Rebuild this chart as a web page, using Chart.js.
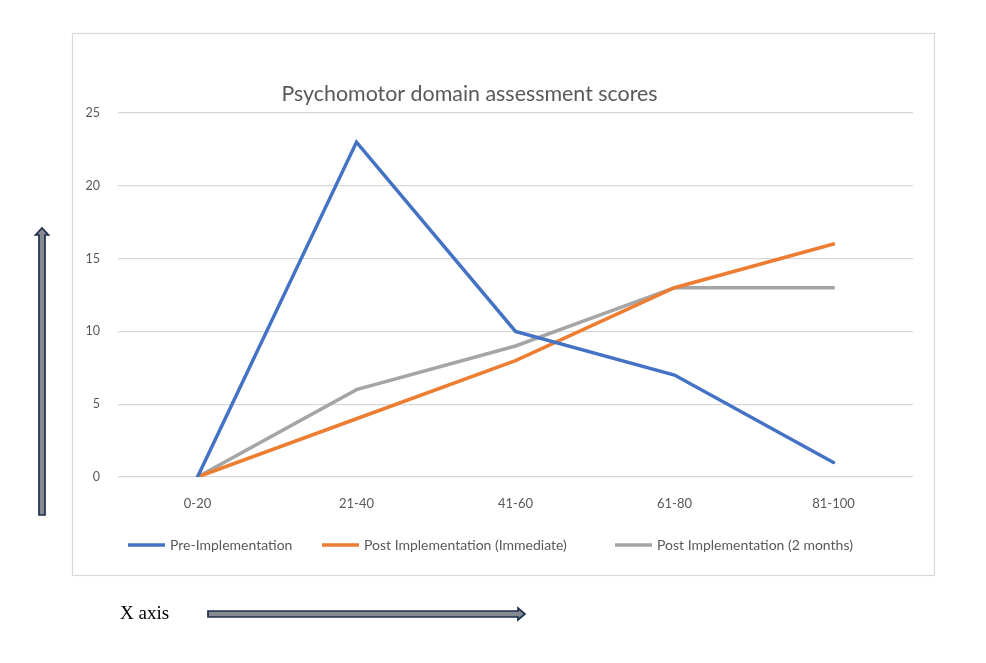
<!DOCTYPE html>
<html>
<head>
<meta charset="utf-8">
<script src="https://cdn.jsdelivr.net/npm/chart.js@4/dist/chart.umd.min.js"></script>
<style>
  html, body { margin: 0; padding: 0; background: #ffffff; }
  #wrap { position: relative; width: 986px; height: 663px; }
</style>
</head>
<body>
<div id="wrap"><canvas id="c" width="986" height="663"></canvas></div>
<script>
const categories = ["0-20", "21-40", "41-60", "61-80", "81-100"];
const preImplementation = [0, 23, 10, 7, 1];
const postImmediate = [0, 4, 8, 13, 16];
const postTwoMonths = [0, 6, 9, 13, 13];
const seriesNames = ["Pre-Implementation", "Post Implementation (Immediate)", "Post Implementation (2 months)"];
const chartTitle = "Psychomotor domain assessment scores";
const xArrowLabel = "X axis";

const FONT = "Lato, 'Noto Sans', sans-serif";
const TEXT_GRAY = "#595959";

function drawArrowH(ctx, x0, x1, y, shaftH, headH, headL) {
  ctx.beginPath();
  ctx.moveTo(x0, y - shaftH / 2);
  ctx.lineTo(x1 - headL, y - shaftH / 2);
  ctx.lineTo(x1 - headL, y - headH / 2);
  ctx.lineTo(x1, y);
  ctx.lineTo(x1 - headL, y + headH / 2);
  ctx.lineTo(x1 - headL, y + shaftH / 2);
  ctx.lineTo(x0, y + shaftH / 2);
  ctx.closePath();
  ctx.fillStyle = "#858a93";
  ctx.fill();
  ctx.strokeStyle = "#1f2f4d";
  ctx.lineWidth = 1.7;
  ctx.stroke();
}
function drawArrowV(ctx, x, y0, y1, shaftW, headW, headL) {
  ctx.beginPath();
  ctx.moveTo(x - shaftW / 2, y0);
  ctx.lineTo(x - shaftW / 2, y1 + headL);
  ctx.lineTo(x - headW / 2, y1 + headL);
  ctx.lineTo(x, y1);
  ctx.lineTo(x + headW / 2, y1 + headL);
  ctx.lineTo(x + shaftW / 2, y1 + headL);
  ctx.lineTo(x + shaftW / 2, y0);
  ctx.closePath();
  ctx.fillStyle = "#858a93";
  ctx.fill();
  ctx.strokeStyle = "#1f2f4d";
  ctx.lineWidth = 1.7;
  ctx.stroke();
}

const decorPlugin = {
  id: "decor",
  beforeDraw(chart) {
    const ctx = chart.ctx;
    ctx.save();
    ctx.fillStyle = "#ffffff";
    ctx.fillRect(0, 0, chart.width, chart.height);
    ctx.strokeStyle = "#d9d9d9";
    ctx.lineWidth = 1.2;
    ctx.strokeRect(72.5, 33.5, 862, 542);
    ctx.restore();
  },
  afterDraw(chart) {
    const ctx = chart.ctx;
    ctx.save();
    ctx.fillStyle = TEXT_GRAY;
    ctx.font = "21.4px " + FONT;
    ctx.textAlign = "center";
    ctx.textBaseline = "middle";
    ctx.fillText(chartTitle, 469.5, 94);
    const legendX = [128, 322, 615];
    const ly = 545;
    ctx.font = "14px " + FONT;
    ctx.textAlign = "left";
    chart.data.datasets.forEach((ds, i) => {
      ctx.strokeStyle = ds.borderColor;
      ctx.lineWidth = 3.5;
      ctx.beginPath();
      ctx.moveTo(legendX[i], ly);
      ctx.lineTo(legendX[i] + 37, ly);
      ctx.stroke();
      ctx.fillStyle = TEXT_GRAY;
      ctx.fillText(ds.label, legendX[i] + 42, ly);
    });
    drawArrowV(ctx, 42, 515, 228, 6, 13, 7);
    drawArrowH(ctx, 208, 525, 614, 6, 12, 7);
    ctx.fillStyle = "#000000";
    ctx.font = "19px 'Liberation Serif', 'DejaVu Serif', serif";
    ctx.textAlign = "left";
    ctx.fillText(xArrowLabel, 120, 614);
    ctx.restore();
  }
};

new Chart(document.getElementById("c"), {
  type: "line",
  data: {
    labels: categories,
    datasets: [
      { label: seriesNames[0], data: preImplementation, borderColor: "#4472C4", backgroundColor: "#4472C4" },
      { label: seriesNames[1], data: postImmediate, borderColor: "#ED7D31", backgroundColor: "#ED7D31" },
      { label: seriesNames[2], data: postTwoMonths, borderColor: "#A5A5A5", backgroundColor: "#A5A5A5" }
    ]
  },
  options: {
    responsive: false,
    animation: false,
    devicePixelRatio: 1,
    layout: { padding: { left: 70, right: 73, top: 113, bottom: 146 } },
    elements: {
      line: { borderWidth: 3.5, tension: 0, borderCapStyle: "round", borderJoinStyle: "miter" },
      point: { radius: 0, hoverRadius: 0 }
    },
    plugins: {
      legend: { display: false },
      title: { display: false },
      tooltip: { enabled: false }
    },
    scales: {
      x: {
        offset: true,
        grid: { display: false, drawTicks: false },
        border: { display: false },
        ticks: { color: TEXT_GRAY, font: { family: FONT, size: 13 }, padding: 19, maxRotation: 0 },
        afterFit(scale) { scale.height = 40; }
      },
      y: {
        min: 0,
        max: 25,
        ticks: { stepSize: 5, color: TEXT_GRAY, font: { family: FONT, size: 12.5 }, padding: 18 },
        grid: { color: "#d9d9d9", lineWidth: 1.3, drawTicks: false },
        border: { display: false },
        afterFit(scale) { scale.width = 48; }
      }
    }
  },
  plugins: [decorPlugin]
});
</script>
</body>
</html>
